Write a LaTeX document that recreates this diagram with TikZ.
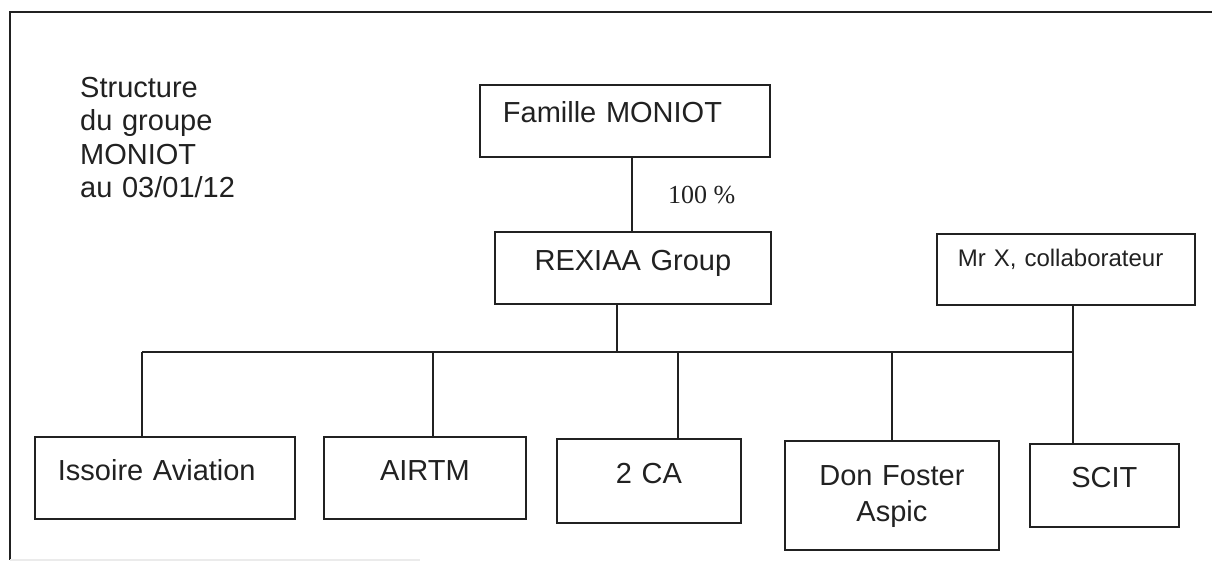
\documentclass[tikz,border=0pt]{standalone}
\usepackage{fontspec}
\setmainfont{Liberation Sans}
\newfontfamily\serifnum{Liberation Serif}
\definecolor{ink}{gray}{0.13}
\tikzset{
  box/.style={draw=ink, line width=1.8pt, inner ysep=0pt, anchor=north west,
              font=\fontsize{29}{36}\selectfont, text=ink},
  lbox/.style={box, align=left},
  cbox/.style={box, align=center, inner xsep=0pt},
  link/.style={draw=ink, line width=1.7pt},
  frame/.style={draw=ink, line width=2.2pt}
}
\begin{document}
\begin{tikzpicture}[x=1pt,y=-1pt]
\useasboundingbox (0,0) rectangle (1212,562);
% frame
\coordinate (f1) at (10,12);
\coordinate (f2) at (1212,12);
\coordinate (f3) at (10,560);
\coordinate (f4) at (420,560);
\draw[frame] (f2) -- (f1) -- (f3);
\draw[draw=black!8, line width=1.5pt] (f3) -- (f4);
% title
\node[anchor=base west, inner sep=0pt, text width=220pt, align=left, text=ink,
      font=\fontsize{29}{33.5}\selectfont] (title) at (80,97)
      {Structure\\du groupe\\MONIOT\\au 03/01/12};
% boxes
\node[lbox, text width=244pt, inner xsep=23pt, text height=38pt, text depth=34pt] (fam) at (479,84) {Famille MONIOT};
\node[cbox, text width=276pt, text height=39pt, text depth=33pt] (rex) at (494,231) {REXIAA Group};
\node[lbox, text width=216pt, inner xsep=21pt, text height=33pt, text depth=38pt,
      font=\fontsize{24}{28}\selectfont] (mrx) at (936,233) {Mr X, collaborateur};
\node[lbox, text width=214pt, inner xsep=23pt, text height=44pt, text depth=38pt] (iss) at (34,436) {Issoire Aviation};
\node[cbox, text width=202pt, text height=44pt, text depth=38pt] (air) at (323,436) {AIRTM};
\node[cbox, text width=184pt, text height=45pt, text depth=39pt] (ca) at (556,438) {2 CA};
\node[cbox, text width=214pt, text height=45pt, text depth=64pt] (dfa) at (784,440) {Don Foster\\Aspic};
\node[cbox, text width=149pt, text height=44pt, text depth=39pt] (scit) at (1029,443) {SCIT};
% percentage
\node[anchor=base west, inner sep=0pt, text=ink, font=\serifnum\fontsize{26}{30}\selectfont] (pct) at (668,203) {100 \%};
% connectors
\coordinate (c1) at (632,0);
\coordinate (c2) at (617,0);
\coordinate (b1) at (142,352);
\coordinate (b2) at (1073,352);
\coordinate (x2) at (433,0);
\coordinate (x3) at (678,0);
\coordinate (x4) at (892,0);
\draw[link] (fam.south -| c1) -- (rex.north -| c1);
\draw[link] (rex.south -| c2) -- (b1 -| c2);
\draw[link] (b1) -- (b2);
\draw[link] (b1) -- (iss.north -| b1);
\draw[link] (b1 -| x2) -- (air.north -| x2);
\draw[link] (b1 -| x3) -- (ca.north -| x3);
\draw[link] (b1 -| x4) -- (dfa.north -| x4);
\draw[link] (mrx.south -| b2) -- (scit.north -| b2);
\end{tikzpicture}
\end{document}
